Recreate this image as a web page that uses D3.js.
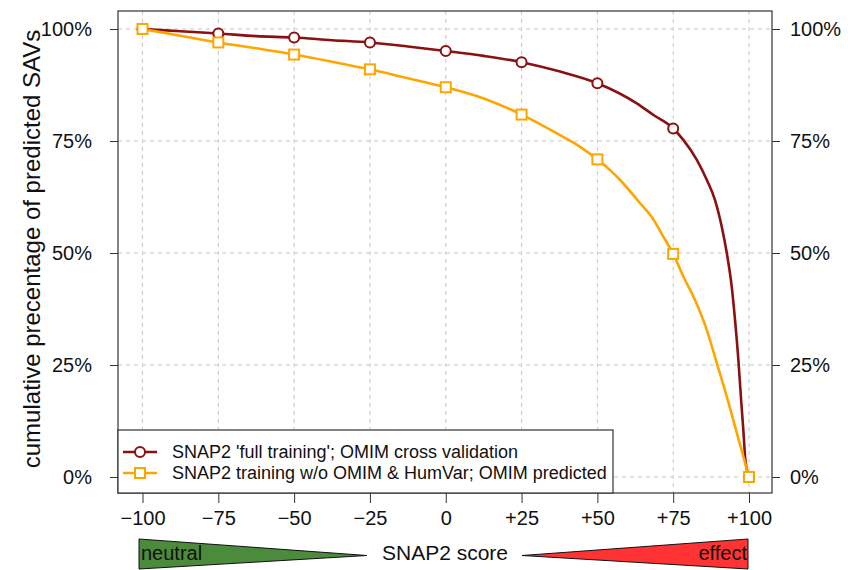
<!DOCTYPE html>
<html>
<head>
<meta charset="utf-8">
<title>SNAP2 cumulative predictions</title>
<script src="https://d3js.org/d3.v7.min.js"></script>
<style>
  body { margin: 0; background: #fff; }
  svg text { font-family: "Liberation Sans", Arial, Helvetica, sans-serif; fill: #111; }
</style>
</head>
<body>
<div id="chart"></div>
<script>
// data
const xTicks = [-100, -75, -50, -25, 0, 25, 50, 75, 100];
const xTickLabels = ["\u2212100", "\u221275", "\u221250", "\u221225", "0", "+25", "+50", "+75", "+100"];
const yTicks = [0, 25, 50, 75, 100];
const yTickLabels = ["0%", "25%", "50%", "75%", "100%"];

const fullScore = [-100, -87.5, -75, -62.5, -50, -37.5, -25, -12.5, 0, 12.5, 25, 37.7, 50, 63, 68.5, 75,
  78.4, 82.8, 86.1, 88.8, 91, 92.7, 94.3, 95.4, 96.5, 97.4, 98.2, 98.8, 100];
const fullPct = [100, 99.5, 99.0, 98.4, 98.1, 97.5, 97.0, 96.1, 95.1, 94.0, 92.6, 90.5, 87.9, 83.4, 80.8, 77.8,
  75.2, 70.8, 66.3, 61.8, 55.9, 49.9, 42.5, 35.0, 26.1, 17.2, 9.8, 3.8, 0];

const woScore = [-100, -87.5, -75, -62.5, -50, -37.5, -25, -12.5, 0, 12.5, 25, 37.7, 44.3, 50, 54.2, 57.5,
  64.1, 67.9, 71.8, 75, 78.4, 82.2, 86.1, 89.4, 92.7, 96.0, 100];
const woPct = [100, 98.5, 97.0, 95.7, 94.3, 92.7, 91.0, 89.0, 87.0, 84.5, 80.9, 76.3, 73.7, 70.9, 68.5, 66.3,
  61.1, 58.1, 53.6, 49.8, 44.7, 39.5, 32.8, 25.4, 17.9, 9.8, 0];

const seriesNames = ["SNAP2 'full training'; OMIM cross validation",
  "SNAP2 training w/o OMIM & HumVar; OMIM predicted"];
const seriesColors = ["#8b1010", "#ffa500"];

const width = 848, height = 570;
const box = { left: 118, top: 11, right: 772, bottom: 493 };

const svg = d3.select("#chart").append("svg")
  .attr("width", width)
  .attr("height", height);

const x = d3.scaleLinear().domain([-100, 100]).range([142.5, 749]);
const y = d3.scaleLinear().domain([0, 100]).range([477, 29]);

// grid
svg.append("g").selectAll("line").data(xTicks).enter().append("line")
  .attr("x1", d => x(d)).attr("x2", d => x(d))
  .attr("y1", box.top).attr("y2", box.bottom)
  .attr("stroke", "#c8c8c8").attr("stroke-dasharray", "4,4");
svg.append("g").selectAll("line").data(yTicks).enter().append("line")
  .attr("x1", box.left).attr("x2", box.right)
  .attr("y1", d => y(d)).attr("y2", d => y(d))
  .attr("stroke", "#c8c8c8").attr("stroke-dasharray", "4,4");

// axes
const bottomAxis = d3.axisBottom(x).tickValues(xTicks)
  .tickFormat((d, i) => xTickLabels[i]).tickSize(10).tickPadding(8);
const gx = svg.append("g").attr("transform", `translate(0,${box.bottom})`).call(bottomAxis);
gx.select(".domain").remove();

const leftAxis = d3.axisLeft(y).tickValues(yTicks)
  .tickFormat((d, i) => yTickLabels[i]).tickSize(8).tickPadding(18);
const gl = svg.append("g").attr("transform", `translate(${box.left},0)`).call(leftAxis);
gl.select(".domain").remove();

const rightAxis = d3.axisRight(y).tickValues(yTicks)
  .tickFormat((d, i) => yTickLabels[i]).tickSize(8).tickPadding(10);
const gr = svg.append("g").attr("transform", `translate(${box.right},0)`).call(rightAxis);
gr.select(".domain").remove();

svg.selectAll(".tick line").attr("stroke", "#333");
svg.selectAll(".tick text").style("font-size", "20px").attr("fill", "#111");

// plot frame
svg.append("rect")
  .attr("x", box.left).attr("y", box.top)
  .attr("width", box.right - box.left).attr("height", box.bottom - box.top)
  .attr("fill", "none").attr("stroke", "#333").attr("stroke-width", 1.2);

// lines
const series = [
  fullScore.map((s, i) => ({ s: s, v: fullPct[i] })),
  woScore.map((s, i) => ({ s: s, v: woPct[i] }))
];
const line = d3.line().x(d => x(d.s)).y(d => y(d.v)).curve(d3.curveMonotoneX);

series.forEach((pts, k) => {
  svg.append("path")
    .datum(pts)
    .attr("d", line)
    .attr("fill", "none")
    .attr("stroke", seriesColors[k])
    .attr("stroke-width", 2.6)
    .attr("stroke-linejoin", "round");
});

function drawMarker(g, k, cx, cy) {
  if (k === 0) {
    g.append("circle").attr("cx", cx).attr("cy", cy).attr("r", 5)
      .attr("fill", "#fff").attr("stroke", seriesColors[0]).attr("stroke-width", 2);
  } else {
    g.append("rect").attr("x", cx - 5).attr("y", cy - 5).attr("width", 10).attr("height", 10)
      .attr("fill", "#fff").attr("stroke", seriesColors[1]).attr("stroke-width", 2);
  }
}

series.forEach((pts, k) => {
  const g = svg.append("g");
  pts.filter(d => xTicks.includes(d.s)).forEach(d => drawMarker(g, k, x(d.s), y(d.v)));
});

// legend
const legend = svg.append("g");
legend.append("rect")
  .attr("x", 118).attr("y", 430).attr("width", 495).attr("height", 63)
  .attr("fill", "#fff").attr("stroke", "#333").attr("stroke-width", 1.2);
seriesNames.forEach((name, k) => {
  const ly = 452 + k * 21;
  legend.append("line").attr("x1", 123).attr("x2", 157).attr("y1", ly).attr("y2", ly)
    .attr("stroke", seriesColors[k]).attr("stroke-width", 2.4);
  drawMarker(legend, k, 140, ly);
  legend.append("text").attr("x", 172).attr("y", ly).attr("dy", "0.35em")
    .style("font-size", "18px").text(name);
});

// y title
svg.append("text")
  .attr("transform", "translate(40,249) rotate(-90)")
  .attr("text-anchor", "middle")
  .style("font-size", "24px")
  .text("cumulative precentage of predicted SAVs");

// score bar under the axis
const scoreBar = svg.append("g");
scoreBar.append("path")
  .attr("d", "M139,539 L367,555.5 L139,569 Z")
  .attr("fill", "#4c8a3c").attr("stroke", "#111").attr("stroke-width", 1);
scoreBar.append("path")
  .attr("d", "M748,539 L522,555.5 L748,569 Z")
  .attr("fill", "#ff3333").attr("stroke", "#111").attr("stroke-width", 1);
scoreBar.append("text").attr("x", 141).attr("y", 560).style("font-size", "20px").text("neutral");
scoreBar.append("text").attr("x", 747).attr("y", 560).attr("text-anchor", "end")
  .style("font-size", "20px").text("effect");
scoreBar.append("text").attr("x", 445).attr("y", 560).attr("text-anchor", "middle")
  .style("font-size", "21px").text("SNAP2 score");
</script>
</body>
</html>
